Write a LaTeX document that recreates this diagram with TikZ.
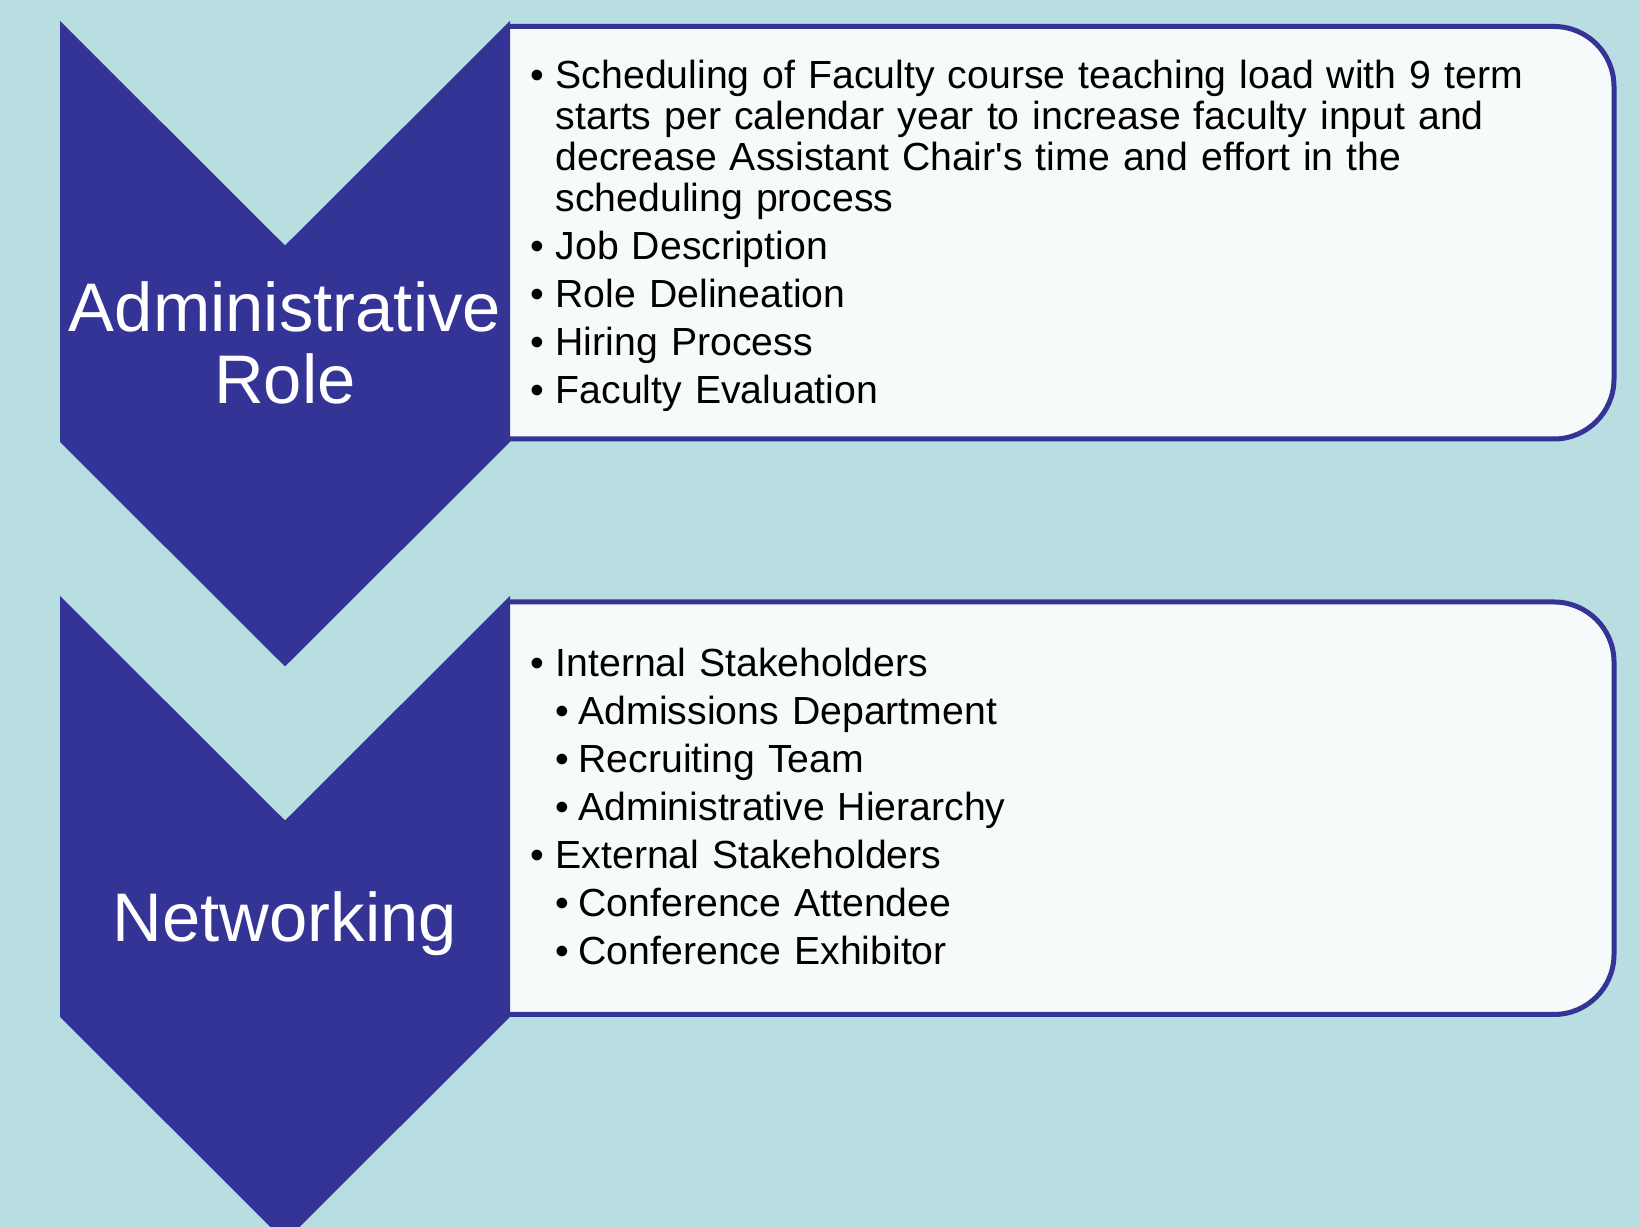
\documentclass[tikz,border=0pt]{standalone}
\usepackage{fontspec}
\setmainfont{Liberation Sans}
\newfontfamily\arialfont{Liberation Sans}
\usepackage{tikz}
\usetikzlibrary{positioning}
\definecolor{mybgblue}{RGB}{185,222,225}
\definecolor{mynavy}{RGB}{52,51,150}
\definecolor{mypanel}{RGB}{246,250,251}
\tikzstyle{chevron}=[fill=mynavy]
\tikzstyle{panel}=[draw=mynavy,fill=mypanel,line width=0.05cm]
\tikzstyle{heading}=[text=white,align=center,inner sep=0pt,font=\arialfont\fontsize{0.688cm}{0.72cm}\selectfont]
\tikzstyle{listtext}=[anchor=north west,inner sep=0pt,text width=10.6cm,align=left,font=\arialfont\fontsize{0.392cm}{0.41cm}\selectfont]
\newcommand{\bul}{\par\hangindent=0.25cm\hangafter=1\noindent\makebox[0.25cm][l]{\textbullet}}
\newcommand{\subbul}{\par\hangindent=0.48cm\hangafter=1\noindent\hspace*{0.25cm}\makebox[0.23cm][l]{\textbullet}}
\begin{document}
\begin{tikzpicture}
\useasboundingbox (0,0) rectangle (16.39,12.27);
\fill[mybgblue] (0,0) rectangle (16.39,12.27);
% panels behind the chevrons
\filldraw[panel] (5.10,12.005) -- (15.54,12.005) arc[start angle=90,end angle=0,radius=0.6] -- (16.14,8.48) arc[start angle=0,end angle=-90,radius=0.6] -- (5.10,7.88);
\filldraw[panel] (5.10,6.25) -- (15.54,6.25) arc[start angle=90,end angle=0,radius=0.6] -- (16.14,2.725) arc[start angle=0,end angle=-90,radius=0.6] -- (5.10,2.125);
% chevrons
\fill[chevron] (0.60,12.06) -- (2.85,9.815) -- (5.10,12.06) -- (5.10,7.85) -- (2.85,5.605) -- (0.60,7.85) -- cycle;
\fill[chevron] (0.60,6.31) -- (2.85,4.065) -- (5.10,6.31) -- (5.10,2.10) -- (2.85,-0.145) -- (0.60,2.10) -- cycle;
\node[heading,anchor=north] (adminhead) at (2.85,9.46) {Administrative\\Role};
\node[heading,anchor=base] (nethead) at (2.85,2.855) {Networking};
\node[listtext] (adminlist) at (5.30,11.87) {\setlength{\parskip}{0.07cm}%
\bul Scheduling of Faculty course teaching load with 9 term\newline starts per calendar year to increase faculty input and\newline decrease Assistant Chair's time and effort in the\newline scheduling process
\bul Job Description
\bul Role Delineation
\bul Hiring Process
\bul Faculty Evaluation\par};
\node[listtext] (netlist) at (5.30,5.99) {\setlength{\parskip}{0.07cm}%
\bul Internal Stakeholders
\subbul Admissions Department
\subbul Recruiting Team
\subbul Administrative Hierarchy
\bul External Stakeholders
\subbul Conference Attendee
\subbul Conference Exhibitor\par};
\end{tikzpicture}
\end{document}
